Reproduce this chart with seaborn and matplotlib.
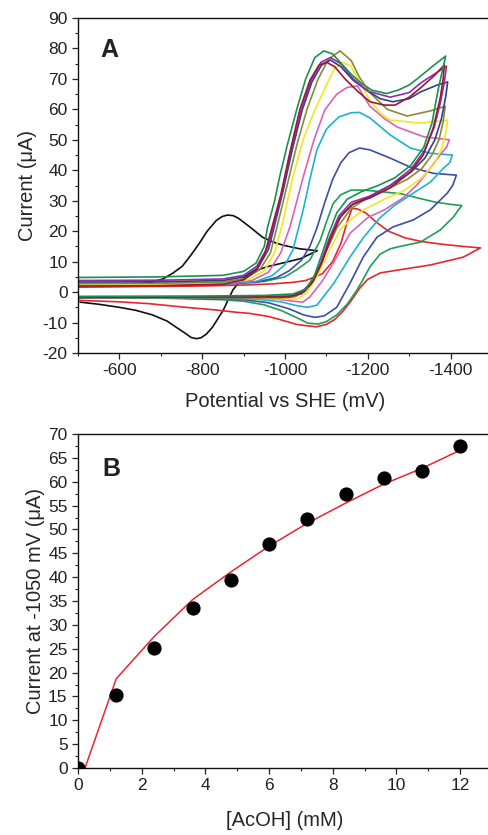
import matplotlib
matplotlib.use("Agg")
import matplotlib.pyplot as plt
import seaborn as sns
from matplotlib.ticker import MultipleLocator

# ---- panel A: cyclic voltammograms (potential mV, current uA) ----
# each loop: forward (upper) branch from -500 to switching point, then back
E_black = [-500, -600, -672, -705, -730, -752, -772, -793, -812, -834, -848, -861, -875, -888, -915, -946, -970,
           -995, -1036, -1078,
           -1038, -990, -956, -920, -895, -874, -851, -825, -810, -797, -786, -773, -762, -740, -715, -680, -640,
           -600, -550, -505]
I_black = [2.2, 2.5, 3.0, 4.3, 6.3, 8.5, 12.0, 16.0, 20.0, 23.5, 24.8, 25.3, 25.1, 24.2, 21.4, 18.0, 16.5,
           15.4, 14.2, 13.6,
           11.0, 9.4, 8.3, 6.5, 4.2, 0.7, -5.9, -11.5, -13.8, -15.0, -15.3, -14.9, -13.8, -11.8, -9.5, -7.5, -6.0,
           -5.0, -4.0, -3.3]

E_red = [-500, -650, -800, -900, -970, -1020, -1050, -1090, -1115, -1135, -1150, -1162, -1175, -1195, -1220, -1250,
         -1290, -1330, -1380, -1430, -1472,
         -1431, -1351, -1271, -1230, -1200, -1180, -1160, -1140, -1120, -1100, -1076, -1050, -1028, -995, -960,
         -915, -880, -835, -752, -672, -600, -500]
I_red = [1.6, 1.8, 2.0, 2.3, 2.7, 3.2, 3.8, 6.0, 10.0, 16.0, 23.0, 27.5, 27.3, 26.0, 23.0, 20.0,
         17.8, 16.6, 15.7, 15.0, 14.5,
         11.5, 8.9, 7.2, 6.3, 4.2, 1.2, -2.8, -6.3, -9.0, -10.6, -11.4, -11.0, -10.6, -9.3, -8.0,
         -7.0, -6.6, -5.9, -4.9, -3.8, -3.2, -2.7]

E_g1 = [-500, -700, -850, -950, -1000, -1030, -1060, -1085, -1100, -1116, -1135, -1160, -1190, -1230, -1280,
        -1330, -1361, -1400, -1427,
        -1419, -1407, -1375, -1327, -1278, -1254, -1230, -1206, -1190, -1174, -1150, -1125, -1100, -1080,
        -1055, -1030, -990, -950, -900, -850, -700, -500]
I_g1 = [2.6, 2.7, 2.9, 3.5, 5.0, 7.5, 10.5, 17.0, 23.0, 29.0, 32.0, 33.5, 33.5, 33.0, 32.3,
        30.6, 29.6, 28.8, 28.4,
        27.0, 24.7, 20.4, 16.4, 15.0, 14.2, 12.5, 8.5, 4.5, 0.7, -4.0, -7.5, -9.7, -10.5,
        -10.2, -8.5, -6.0, -4.2, -3.0, -2.5, -2.0, -1.8]

E_blue = [-500, -700, -850, -930, -980, -1010, -1040, -1060, -1077, -1095, -1115, -1135, -1155, -1180, -1205,
          -1254, -1303, -1358, -1414,
          -1405, -1392, -1351, -1310, -1261, -1222, -1189, -1157, -1125, -1095, -1072, -1045, -1010, -960,
          -900, -750, -500]
I_blue = [2.2, 2.3, 2.6, 3.2, 4.8, 7.0, 10.5, 15.0, 21.0, 29.0, 37.0, 42.5, 45.8, 47.3, 46.7,
          44.0, 41.0, 39.0, 38.4,
          35.0, 32.5, 27.0, 23.7, 21.4, 18.0, 11.5, 2.9, -5.0, -7.8, -8.3, -7.5, -5.5, -3.5,
          -2.5, -2.0, -1.8]

E_cyan = [-500, -700, -850, -930, -970, -1000, -1019, -1044, -1060, -1077, -1100, -1130, -1160, -1180, -1205,
          -1254, -1303, -1351, -1404,
          -1398, -1383, -1351, -1303, -1265, -1230, -1190, -1157, -1118, -1077, -1055, -1030, -990, -930,
          -800, -500]
I_cyan = [2.3, 2.4, 2.7, 3.5, 5.5, 9.0, 13.8, 27.0, 37.0, 46.7, 53.5, 57.5, 58.9, 59.0, 57.2,
          51.6, 47.3, 45.6, 45.0,
          42.5, 40.7, 36.1, 31.9, 28.5, 24.5, 18.0, 11.5, 2.9, -4.3, -5.0, -4.5, -3.2, -2.3,
          -1.9, -1.8]

E_mag = [-500, -700, -850, -920, -960, -990, -1012, -1044, -1070, -1096, -1125, -1150, -1175, -1205, -1240,
         -1271, -1335, -1397,
         -1390, -1380, -1351, -1319, -1285, -1240, -1200, -1157, -1125, -1092, -1060, -1043, -1020, -980,
         -900, -500]
I_mag = [2.4, 2.5, 2.9, 3.8, 6.5, 13.0, 21.4, 37.8, 50.0, 59.8, 65.0, 67.2, 67.7, 61.0, 57.0,
         54.2, 51.0, 50.0,
         47.5, 46.0, 40.7, 35.2, 30.9, 27.0, 24.5, 19.3, 11.5, 4.0, -1.6, -3.3, -3.0, -2.3,
         -1.9, -1.8]

E_yel = [-500, -700, -850, -910, -950, -975, -992, -1019, -1045, -1072, -1100, -1120, -1140, -1160, -1185,
         -1205, -1230, -1254, -1327, -1393,
         -1388, -1378, -1360, -1330, -1290, -1240, -1190, -1160, -1133, -1108, -1077, -1052, -1030, -1000,
         -900, -500]
I_yel = [2.5, 2.6, 3.0, 4.0, 7.0, 13.0, 21.4, 37.8, 50.5, 59.8, 68.0, 73.5, 75.5, 74.0, 68.0,
         63.0, 58.8, 56.5, 55.5, 56.5,
         52.0, 47.0, 42.0, 37.5, 33.5, 30.5, 27.0, 24.0, 20.4, 13.8, 5.0, -0.3, -2.3, -2.2,
         -1.9, -1.8]

E_olive = [-500, -700, -850, -905, -940, -965, -980, -1005, -1028, -1053, -1080, -1105, -1133, -1160, -1180,
           -1205, -1247, -1295, -1351, -1387,
           -1382, -1372, -1355, -1330, -1295, -1250, -1200, -1160, -1125, -1100, -1075, -1050, -1025, -990,
           -900, -500]
I_olive = [2.8, 2.9, 3.3, 4.5, 7.5, 13.0, 21.0, 35.0, 48.0, 60.0, 70.0, 76.5, 79.2, 76.0, 70.5,
           65.5, 60.0, 57.8, 59.5, 61.0,
           56.0, 50.0, 45.0, 40.5, 37.0, 34.0, 31.0, 27.5, 21.0, 13.5, 6.0, 0.5, -1.5, -1.9,
           -1.8, -1.7]

E_navy = [-500, -700, -850, -900, -935, -960, -975, -995, -1018, -1042, -1065, -1088, -1110, -1135, -1165,
          -1200, -1230, -1260, -1300, -1327, -1368, -1393,
          -1388, -1378, -1362, -1338, -1305, -1254, -1205, -1160, -1130, -1105, -1085, -1062, -1040, -1010,
          -900, -500]
I_navy = [3.3, 3.4, 3.8, 5.0, 8.0, 14.0, 22.0, 33.0, 47.0, 60.0, 69.0, 74.5, 76.2, 74.0, 69.5,
          66.0, 63.5, 62.5, 63.5, 65.7, 68.0, 69.0,
          64.0, 57.0, 50.0, 44.0, 39.5, 35.0, 31.5, 28.5, 24.0, 16.0, 8.5, 2.5, -0.5, -1.6,
          -1.8, -1.8]

E_purple = [-500, -700, -850, -900, -932, -957, -973, -993, -1015, -1040, -1063, -1087, -1110, -1135, -1165,
            -1200, -1254, -1300, -1327, -1360, -1390,
            -1385, -1375, -1360, -1337, -1305, -1254, -1205, -1160, -1130, -1105, -1085, -1062, -1040, -1010,
            -900, -500]
I_purple = [3.8, 3.9, 4.3, 5.5, 8.5, 14.5, 22.0, 33.0, 47.0, 60.0, 69.5, 75.5, 77.0, 75.0, 70.0,
            66.0, 64.0, 65.5, 68.6, 71.5, 74.2,
            69.0, 62.0, 54.0, 46.5, 40.5, 35.0, 31.5, 29.5, 25.0, 17.0, 9.0, 3.0, 0.0, -1.4,
            -1.7, -1.7]

E_wine = [-500, -700, -850, -900, -930, -952, -968, -990, -1012, -1036, -1060, -1082, -1100, -1120, -1145,
          -1175, -1205, -1240, -1266, -1300, -1327, -1360, -1385,
          -1382, -1375, -1358, -1334, -1303, -1254, -1205, -1165, -1135, -1110, -1090, -1068, -1045, -1015,
          -900, -500]
I_wine = [2.0, 2.1, 2.6, 4.0, 7.0, 13.0, 21.0, 32.0, 46.0, 60.0, 69.5, 74.5, 75.5, 74.0, 70.0,
          66.0, 62.5, 61.4, 61.4, 64.0, 67.0, 71.0, 74.6,
          70.0, 63.7, 53.9, 45.0, 39.4, 34.2, 30.9, 29.0, 25.0, 17.5, 10.0, 3.5, 0.0, -1.3,
          -1.6, -1.7]

E_g12 = [-500, -700, -850, -900, -930, -950, -958, -975, -987, -1005, -1028, -1050, -1072, -1094, -1115,
         -1135, -1160, -1185, -1210, -1245, -1273, -1300, -1322, -1355, -1388,
         -1379, -1370, -1355, -1335, -1303, -1265, -1225, -1185, -1150, -1125, -1105, -1088, -1070, -1050,
         -1020, -950, -800, -500]
I_g12 = [4.8, 5.0, 5.5, 6.8, 9.5, 15.0, 21.4, 30.0, 37.8, 48.0, 59.8, 70.0, 77.0, 79.2, 78.2,
         75.2, 71.5, 68.5, 66.3, 65.2, 66.3, 68.0, 70.3, 74.0, 77.5,
         72.0, 66.5, 55.5, 47.5, 41.5, 37.5, 35.0, 33.0, 30.5, 26.0, 19.0, 12.0, 5.0, 1.0,
         -0.6, -1.1, -1.3, -1.4]

# ---- panel B: current at -1050 mV vs acid concentration ----
acoh_mM = [0, 1.2, 2.4, 3.6, 4.8, 6.0, 7.2, 8.4, 9.6, 10.8, 12.0]
current_uA = [0, 15.3, 25.2, 33.6, 39.4, 46.9, 52.2, 57.4, 60.8, 62.3, 67.5]
fit_x = [0.22, 1.2, 2.4, 3.6, 4.8, 6.0, 7.2, 8.4, 9.6, 10.8, 12.0]
fit_y = [0, 18.7, 27.6, 35.3, 41.1, 46.5, 51.3, 55.5, 59.5, 62.8, 66.6]

sns.set_style("ticks")
plt.rcParams['font.family'] = ['Liberation Sans', 'DejaVu Sans']
plt.rcParams['axes.unicode_minus'] = False

fig = plt.figure(figsize=(4.88, 8.35), dpi=100)

# axes reach just past the right edge, the reference is cropped there
ax1 = fig.add_axes([78 / 488, 1 - 353 / 835, 414 / 488, 335 / 835])
ax2 = fig.add_axes([78 / 488, 1 - 768 / 835, 414 / 488, 334 / 835])

curves = [
    (E_black, I_black, '#111111'),
    (E_red, I_red, '#e8262e'),
    (E_g1, I_g1, '#1f9e55'),
    (E_blue, I_blue, '#3d4ea6'),
    (E_cyan, I_cyan, '#1cb3cf'),
    (E_mag, I_mag, '#dc62b4'),
    (E_yel, I_yel, '#f0e825'),
    (E_olive, I_olive, '#8a8a35'),
    (E_navy, I_navy, '#2e3f93'),
    (E_purple, I_purple, '#8e2fa3'),
    (E_wine, I_wine, '#9a1832'),
    (E_g12, I_g12, '#1b9050'),
]
for E, I, c in curves:
    sns.lineplot(x=E, y=I, sort=False, estimator=None, color=c, lw=1.2, ax=ax1)

ax1.set_xlim(-500, -1500)
ax1.set_ylim(-20, 90)
ax1.xaxis.set_minor_locator(MultipleLocator(100))
ax1.yaxis.set_major_locator(MultipleLocator(10))
ax1.yaxis.set_minor_locator(MultipleLocator(5))
ax1.set_xticks([-600, -800, -1000, -1200, -1400])
ax1.set_xlabel('Potential vs SHE (mV)', fontsize=14.5, labelpad=10)
ax1.set_ylabel('Current (μA)', fontsize=14.5, labelpad=4)
ax1.text(0.053, 0.884, 'A', transform=ax1.transAxes, fontsize=18, fontweight='bold', color='#222222')

# panel B
sns.lineplot(x=fit_x, y=fit_y, sort=False, estimator=None, color='#e8262e', lw=1.1, ax=ax2)
sns.scatterplot(x=acoh_mM, y=current_uA, color='black', s=105, edgecolor='black', linewidth=0, ax=ax2, zorder=3)
ax2.set_xlim(0, 13)
ax2.set_ylim(0, 70)
ax2.xaxis.set_minor_locator(MultipleLocator(1))
ax2.yaxis.set_major_locator(MultipleLocator(5))
ax2.yaxis.set_minor_locator(MultipleLocator(2.5))
ax2.set_xticks(range(0, 13, 2))
ax2.set_xlabel('[AcOH] (mM)', fontsize=14.5, labelpad=13)
ax2.set_ylabel('Current at -1050 mV (μA)', fontsize=14.5, labelpad=2)
ax2.text(0.06, 0.874, 'B', transform=ax2.transAxes, fontsize=18, fontweight='bold', color='#222222')

for ax in (ax1, ax2):
    ax.tick_params(which='major', direction='out', length=4, width=0.9, labelsize=12.5, colors='#222222')
    ax.tick_params(which='minor', direction='out', length=2.5, width=0.8)
    ax.tick_params(top=False, right=False)
    for s in ax.spines.values():
        s.set_linewidth(1.0)
        s.set_color('#111111')

fig.savefig('out.png', dpi=100)
